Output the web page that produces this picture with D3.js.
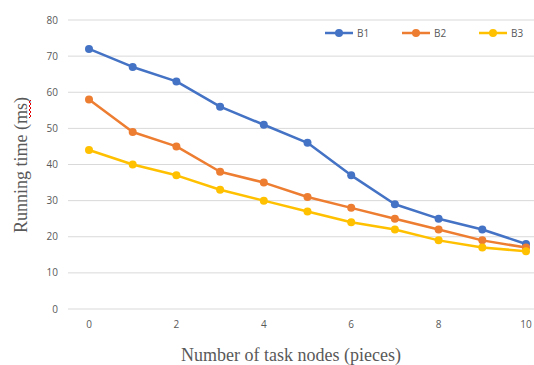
<!DOCTYPE html>
<html>
<head>
<meta charset="utf-8">
<script src="https://cdn.jsdelivr.net/npm/d3@7"></script>
<style>
  body { margin: 0; background: #fff; }
  svg { display: block; }
</style>
</head>
<body>
<script>
const width = 534;
const height = 365;

const nodes = [0, 1, 2, 3, 4, 5, 6, 7, 8, 9, 10];
const b1 = [72, 67, 63, 56, 51, 46, 37, 29, 25, 22, 18];
const b2 = [58, 49, 45, 38, 35, 31, 28, 25, 22, 19, 17];
const b3 = [44, 40, 37, 33, 30, 27, 24, 22, 19, 17, 16];
const seriesNames = ["B1", "B2", "B3"];
const yTicks = [0, 10, 20, 30, 40, 50, 60, 70, 80];
const xTicks = [0, 2, 4, 6, 8, 10];

const colour = ["#4472C4", "#ED7D31", "#FFC000"];
const series = [b1, b2, b3].map((vals, i) => ({
  name: seriesNames[i],
  colour: colour[i],
  points: vals.map((v, j) => ({ x: nodes[j], y: v })),
}));

const svg = d3
  .select("body")
  .append("svg")
  .attr("width", width)
  .attr("height", height);

const x = d3.scaleLinear().domain([0, 10]).range([89, 526]);
const y = d3.scaleLinear().domain([0, 80]).range([309, 20]);

// gridlines
svg
  .append("g")
  .selectAll("line")
  .data(yTicks)
  .join("line")
  .attr("x1", 68)
  .attr("x2", width)
  .attr("y1", (d) => y(d))
  .attr("y2", (d) => y(d))
  .attr("stroke", "#d9d9d9")
  .attr("stroke-width", 1);

// y tick labels
svg
  .append("g")
  .selectAll("text")
  .data(yTicks)
  .join("text")
  .attr("x", 58)
  .attr("y", (d) => y(d))
  .attr("dy", "0.35em")
  .attr("text-anchor", "end")
  .attr("font-family", "Open Sans, Liberation Sans, sans-serif")
  .attr("font-size", 10)
  .attr("fill", "#595959")
  .text((d) => d);

// x tick labels
svg
  .append("g")
  .selectAll("text")
  .data(xTicks)
  .join("text")
  .attr("x", (d) => x(d))
  .attr("y", 328)
  .attr("text-anchor", "middle")
  .attr("font-family", "Open Sans, Liberation Sans, sans-serif")
  .attr("font-size", 10)
  .attr("fill", "#595959")
  .text((d) => d);

// axis titles
svg
  .append("text")
  .attr("x", 291)
  .attr("y", 361)
  .attr("text-anchor", "middle")
  .attr("font-family", "Liberation Serif, DejaVu Serif, serif")
  .attr("font-size", 18)
  .attr("fill", "#595959")
  .text("Number of task nodes (pieces)");

const yTitle = svg
  .append("g")
  .attr("transform", "translate(27,165) rotate(-90)");

yTitle
  .append("text")
  .attr("text-anchor", "middle")
  .attr("font-family", "Liberation Serif, DejaVu Serif, serif")
  .attr("font-size", 18)
  .attr("fill", "#595959")
  .text("Running time (ms)");

// red spell-check squiggle under "ms"
const squiggle = d3.range(0, 19, 2).map((d, i) => [47 + d, 2 + (i % 2) * 2]);
yTitle
  .append("path")
  .attr("d", d3.line()(squiggle))
  .attr("fill", "none")
  .attr("stroke", "#e00000")
  .attr("stroke-width", 1);

// lines
const line = d3
  .line()
  .x((d) => x(d.x))
  .y((d) => y(d.y));

const groups = svg.append("g").selectAll("g").data(series).join("g");

groups
  .append("path")
  .attr("d", (d) => line(d.points))
  .attr("fill", "none")
  .attr("stroke", (d) => d.colour)
  .attr("stroke-width", 2.5)
  .attr("stroke-linejoin", "round");

groups
  .selectAll("circle")
  .data((d) => d.points.map((p) => ({ ...p, colour: d.colour })))
  .join("circle")
  .attr("cx", (d) => x(d.x))
  .attr("cy", (d) => y(d.y))
  .attr("r", 4)
  .attr("fill", (d) => d.colour);

// legend
const legend = svg
  .append("g")
  .selectAll("g")
  .data(series)
  .join("g")
  .attr("transform", (d, i) => "translate(" + (325 + i * 77) + ",33)");

legend
  .append("line")
  .attr("x1", 0)
  .attr("x2", 28)
  .attr("stroke", (d) => d.colour)
  .attr("stroke-width", 2.5);

legend
  .append("circle")
  .attr("cx", 14)
  .attr("r", 4)
  .attr("fill", (d) => d.colour);

legend
  .append("text")
  .attr("x", 32)
  .attr("dy", "0.35em")
  .attr("font-family", "Open Sans, Liberation Sans, sans-serif")
  .attr("font-size", 10)
  .attr("fill", "#595959")
  .text((d) => d.name);
</script>
</body>
</html>
